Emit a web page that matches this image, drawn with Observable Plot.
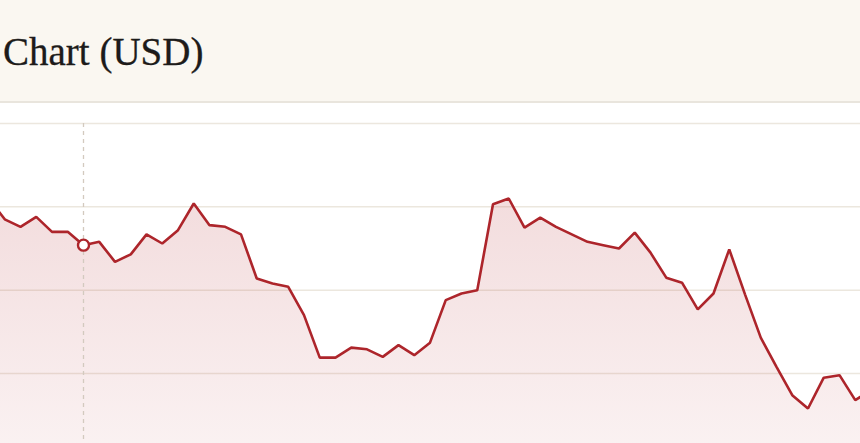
<!DOCTYPE html>
<html>
<head>
<meta charset="utf-8">
<script src="https://cdn.jsdelivr.net/npm/d3@7"></script>
<script src="https://cdn.jsdelivr.net/npm/@observablehq/plot@0.6"></script>
<style>
  html, body { margin: 0; padding: 0; background: #ffffff; overflow: hidden; width: 860px; height: 443px; }
  #header { position: relative; height: 101px; background: #faf7f1; border-bottom: 2px solid #e9e5dd; }
  #title { position: absolute; left: 3px; top: 30px; margin: 0; font-family: "Liberation Serif", serif; font-weight: normal; font-size: 39px; line-height: 44px; color: #1d1b1a; white-space: nowrap; -webkit-text-stroke: 0.3px #1d1b1a; }
  #chart svg { display: block; }
</style>
</head>
<body>
<div id="header"><h1 id="title">Chart (USD)</h1></div>
<div id="chart"></div>
<script>
const title = "Chart (USD)";
const indexes = d3.range(-6, 51);
const values = [
  31.0, 28.5, 27.6, 28.8, 27.0, 27.0, 25.4, 25.8, 23.4, 24.3,
  26.7, 25.6, 27.2, 30.4, 27.8, 27.6, 26.7, 21.4, 20.8, 20.4,
  17.0, 11.9, 11.9, 13.1, 12.9, 12.0, 13.4, 12.2, 13.7, 18.8,
  19.6, 20.0, 30.3, 31.0, 27.5, 28.7, 27.6, 26.7, 25.8, 25.4,
  25.0, 26.9, 24.5, 21.5, 20.9, 17.7, 19.6, 24.9, 19.5, 14.3,
  10.8, 7.4, 5.8, 9.5, 9.8, 6.8, 8.0
];
const yTicks = [0, 10, 20, 30, 40];
const markerIndex = 0;

const data = indexes.map((k, i) => ({k, v: values[i]}));
const marker = data.filter(d => d.k === markerIndex);

const gradientDefs = () => {
  const defs = d3.create("svg:defs");
  const g = defs.append("linearGradient")
    .attr("id", "areaFill")
    .attr("x1", 0).attr("y1", 0).attr("x2", 0).attr("y2", 1)
    .attr("gradientUnits", "objectBoundingBox");
  g.append("stop").attr("offset", "0%").attr("stop-color", "#b3282d").attr("stop-opacity", 0.16);
  g.append("stop").attr("offset", "100%").attr("stop-color", "#b3282d").attr("stop-opacity", 0.06);
  return defs.node();
};

const chart = Plot.plot({
  width: 860,
  height: 360,
  marginTop: 20,
  marginBottom: 6.67,
  marginLeft: 0,
  marginRight: 0,
  style: {background: "transparent", overflow: "hidden"},
  x: {domain: [-83 / 15.75, 777 / 15.75], axis: null},
  y: {domain: [0, 40], axis: null},
  marks: [
    gradientDefs,
    Plot.ruleY(yTicks, {stroke: "#ece7de", strokeWidth: 1.5}),
    Plot.areaY(data, {x: "k", y: "v", fill: "url(#areaFill)", clip: true}),
    Plot.ruleX([markerIndex], {stroke: "#d3cabf", strokeWidth: 1.3, strokeDasharray: "4,4", y1: 40, y2: 0}),
    Plot.line(data, {x: "k", y: "v", stroke: "#ad252b", strokeWidth: 2.6, strokeLinejoin: "miter", clip: true}),
    Plot.dot(marker, {x: "k", y: "v", r: 5.5, fill: "white", stroke: "#ad252b", strokeWidth: 2.4})
  ]
});
document.getElementById("chart").appendChild(chart);
</script>
</body>
</html>
